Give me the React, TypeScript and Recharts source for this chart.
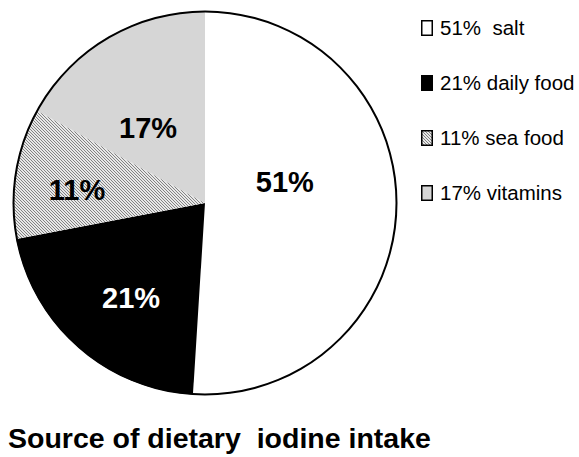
import { PieChart, Pie, Cell } from 'recharts'

const sources = ['salt', 'daily food', 'sea food', 'vitamins']
const shares = [51, 21, 11, 17]
const legendLabels = ['51%  salt', '21% daily food', '11% sea food', '17% vitamins']

const fills = ['#ffffff', '#000000', 'url(#hatch)', '#d6d6d6']
const labelColors = ['#000', '#fff', '#000', '#000']
// where each percentage sits inside its slice (radius fraction, angle nudge)
const labelRadius = [0.43, 0.627, 0.67, 0.49]
const labelNudge = [16.5, 3.5, 3.2, 6.6]

const data = sources.map((name, i) => ({ name, value: shares[i] }))
const outline = [{ name: 'all', value: shares.reduce((a, b) => a + b, 0) }]

const RAD = Math.PI / 180

function renderLabel(props: any) {
  const { cx, cy, midAngle, outerRadius, index, value } = props
  const a = (midAngle + labelNudge[index]) * RAD
  const r = outerRadius * labelRadius[index]
  const x = cx + r * Math.cos(a)
  const y = cy - r * Math.sin(a)
  return (
    <text
      x={x}
      y={y}
      fill={labelColors[index]}
      textAnchor="middle"
      dominantBaseline="central"
      fontFamily="Liberation Sans, Arial, sans-serif"
      fontWeight="bold"
      fontSize={29}
    >
      {value}%
    </text>
  )
}

export default function App() {
  return (
    <div style={{ position: 'absolute', left: 0, top: 0, width: 579, height: 457, background: '#fff', fontFamily: 'Liberation Sans, Arial, sans-serif' }}>
      <svg width={0} height={0} style={{ position: 'absolute' }}>
        <defs>
          <pattern id="hatch" patternUnits="userSpaceOnUse" width={3} height={3}>
            <rect width={3} height={3} fill="#e8e8e8" />
            <path d="M-1,-1 L4,4 M-1,2 L1,4 M2,-1 L4,1" stroke="#777" strokeWidth={0.9} />
          </pattern>
        </defs>
      </svg>

      <PieChart width={579} height={457} margin={{ top: 0, right: 0, bottom: 0, left: 0 }}>
        <Pie
          data={data}
          dataKey="value"
          cx={205}
          cy={203}
          outerRadius={192}
          startAngle={90}
          endAngle={-270}
          stroke="none"
          label={renderLabel}
          labelLine={false}
          isAnimationActive={false}
        >
          {data.map((d, i) => (
            <Cell key={d.name} fill={fills[i]} />
          ))}
        </Pie>
        {/* thin black ring for the outer edge */}
        <Pie
          data={outline}
          dataKey="value"
          cx={205}
          cy={203}
          innerRadius={190.5}
          outerRadius={192.5}
          startAngle={90}
          endAngle={-270}
          fill="#000"
          stroke="none"
          isAnimationActive={false}
        />
      </PieChart>

      {/* legend */}
      {legendLabels.map((t, i) => (
        <div
          key={t}
          style={{
            position: 'absolute',
            left: 421,
            top: 16 + i * 55,
            height: 24,
            display: 'flex',
            alignItems: 'center',
            fontSize: 20.5,
            whiteSpace: 'pre',
            color: '#000',
          }}
        >
          <svg width={12} height={16} style={{ marginRight: 7 }}>
            <rect x={0.75} y={0.75} width={10.5} height={14.5} fill={fills[i]} stroke="#000" strokeWidth={1.5} />
          </svg>
          {t}
        </div>
      ))}

      <div
        style={{
          position: 'absolute',
          left: 8,
          top: 422,
          fontSize: 28.5,
          fontWeight: 'bold',
          whiteSpace: 'pre',
          color: '#000',
        }}
      >
        Source of dietary  iodine intake
      </div>
    </div>
  )
}
